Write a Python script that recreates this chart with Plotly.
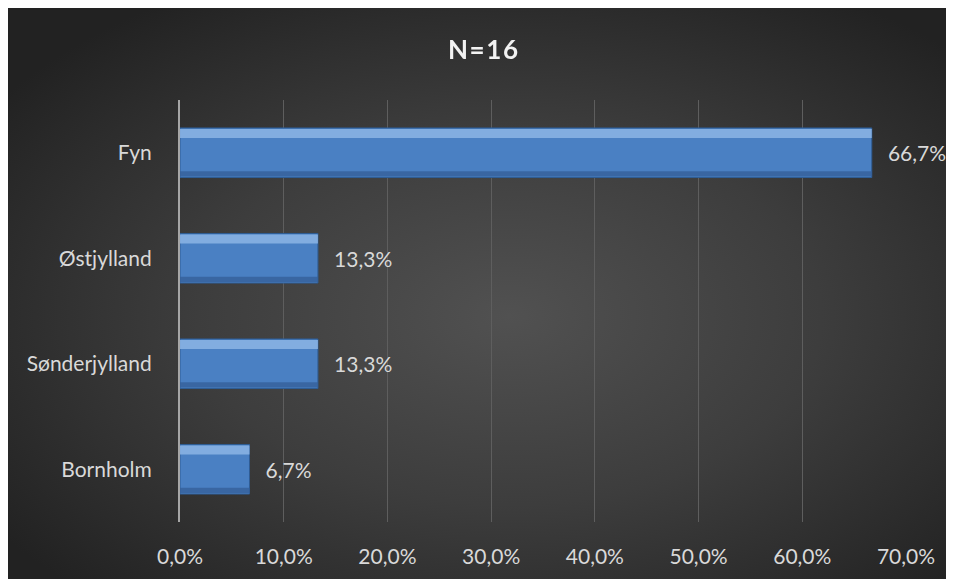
import base64
import plotly.graph_objects as go

regions = ["Fyn", "Østjylland", "Sønderjylland", "Bornholm"]
shares = [0.667, 0.133, 0.133, 0.067]
title_text = "N=16"

# the page puts the figure 8px in from the top-left corner
W, H = 946, 571
L, R, T, B = 172, 48, 92, 57
pw, ph = W - L - R, H - T - B

# radial gradient backdrop as inline svg
svg = """<svg xmlns='http://www.w3.org/2000/svg' width='946' height='571' preserveAspectRatio='none'>
<defs><radialGradient id='g' cx='53%' cy='54%' r='66%'>
<stop offset='0' stop-color='#515151'/><stop offset='0.5' stop-color='#3d3d3d'/>
<stop offset='1' stop-color='#222222'/></radialGradient></defs>
<rect width='946' height='571' fill='url(#g)'/></svg>"""
bg_src = "data:image/svg+xml;base64," + base64.b64encode(svg.encode()).decode()

font = "Lato, 'Open Sans', sans-serif"
fsize = 21
bw = 0.47

fig = go.Figure()
fig.add_trace(go.Bar(
    x=shares, y=regions, orientation="h", width=bw, offset=-bw / 2,
    marker=dict(color="#4a80c3", line=dict(color="#2f5d95", width=1)),
    texttemplate="\u2002\u2009%{x:.1%}", textposition="outside", cliponaxis=False,
    textfont=dict(color="#d9d9d9", size=fsize, family=font),
    hoverinfo="skip", showlegend=False,
))
# top highlight of the bevel
fig.add_trace(go.Bar(
    x=shares, y=regions, orientation="h", width=0.085, offset=-bw / 2 + 0.01,
    marker=dict(color="#8db5e6", line=dict(width=0)), opacity=0.85,
    hoverinfo="skip", showlegend=False,
))
# bottom shade of the bevel
fig.add_trace(go.Bar(
    x=shares, y=regions, orientation="h", width=0.05, offset=bw / 2 - 0.06,
    marker=dict(color="#35609a", line=dict(width=0)), opacity=0.8,
    hoverinfo="skip", showlegend=False,
))

fig.update_layout(
    width=W, height=H,
    margin=dict(l=L, r=R, t=T, b=B),
    paper_bgcolor="#2a2a2a", plot_bgcolor="rgba(0,0,0,0)",
    separators=",.",
    barmode="overlay",
    font=dict(family=font, color="#d9d9d9", size=fsize),
    title=dict(text="<b>" + "&#8202;".join(title_text) + "</b>",
               x=475 / W, xanchor="center", y=1 - 42 / H, yanchor="middle",
               font=dict(size=26, color="#f2f2f2", family=font)),
    images=[dict(source=bg_src, xref="paper", yref="paper",
                 x=-L / pw, y=(H - B) / ph, sizex=W / pw, sizey=H / ph,
                 xanchor="left", yanchor="top", sizing="stretch", layer="below")],
)
fig.update_xaxes(range=[0, 0.7], dtick=0.1, tickformat=".1%",
                 showgrid=True, gridcolor="#5e5e5e", gridwidth=1,
                 zeroline=False, showline=False, ticks="",
                 ticklabelstandoff=20, tickfont=dict(color="#d9d9d9", size=fsize))
fig.update_yaxes(autorange="reversed", showgrid=False, showline=True,
                 linecolor="#a6a6a6", linewidth=2, ticks="",
                 ticklabelstandoff=22, tickfont=dict(color="#d9d9d9", size=fsize))

fig.write_html("out.html")
